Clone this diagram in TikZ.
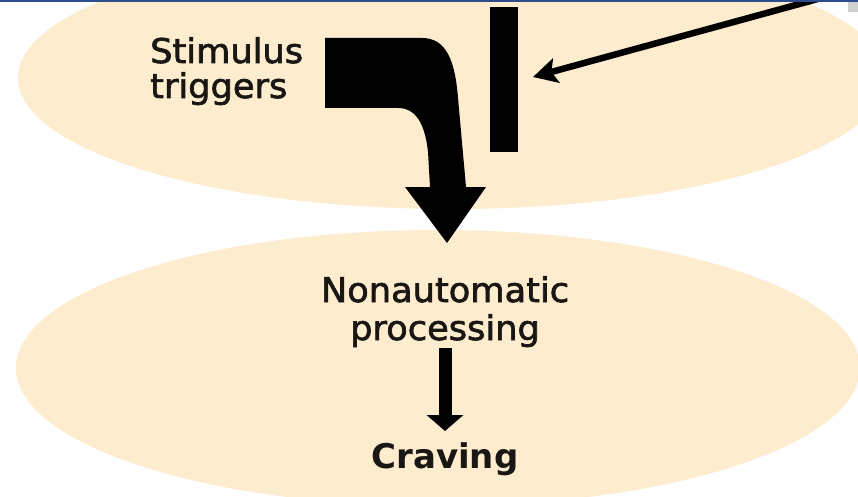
\documentclass[tikz,border=0pt]{standalone}
\usepackage{fontspec}
\setmainfont{DejaVu Sans}
\newfontfamily\lblfont{DejaVu Sans}[FakeBold=2,FakeStretch=1.035]
\usetikzlibrary{arrows.meta}
\definecolor{beige}{RGB}{253,236,205}
\definecolor{bandblue}{RGB}{44,76,140}
\definecolor{inkc}{RGB}{25,22,20}
\tikzset{
  lbl/.style={inner sep=0pt, text=inkc, font=\lblfont\fontsize{34}{37}\selectfont},
  blob/.style={fill=beige},
}
\begin{document}
\begin{tikzpicture}[x=1pt,y=-1pt]
\useasboundingbox (0,0) rectangle (858,497);
\fill[white] (0,0) rectangle (858,497);
% ellipses
\fill[blob] (452,78) ellipse [x radius=434, y radius=131];
\fill[blob] (438,368) ellipse [x radius=422, y radius=138];
% big bent arrow
\fill[black] (325,38) -- (422,38) .. controls (446,38) and (455,60) .. (458,98)
  -- (466,187) -- (486,187) -- (447,243) -- (405,187) -- (430,187)
  -- (428,152) .. controls (425,124) and (416,108) .. (398,108)
  -- (325,108) -- cycle;
% vertical bar
\fill[black] (490,7) rectangle (518,152);
% thin arrow
\coordinate (src) at (825,-3);
\coordinate (bartip) at (533,77);
\draw[line width=6.5pt, -{Stealth[length=24pt,width=25pt,inset=5pt]}] (src) -- (bartip);
% top band and corner mark
\fill[bandblue] (0,0) rectangle (858,2.5);
\fill[black!18] (848,2.5) rectangle (858,12);
% texts
\node[lbl, anchor=base west] (stim) at (150,63) {Stimulus};
\node[lbl, anchor=base west] (trig) at (150,98) {triggers};
\node[lbl, anchor=base] (nonauto) at (445,302) {Nonautomatic};
\node[lbl, anchor=base] (proc) at (445,340) {processing};
\node[lbl, anchor=base, font=\fontsize{34}{37}\selectfont\bfseries] (crav) at (445,468) {Craving};
% small arrow
\coordinate (sa) at (445,348);
\coordinate (sb) at (445,431);
\draw[line width=13pt, -{Triangle[length=16pt,width=36pt]}] (sa) -- (sb);
\end{tikzpicture}
\end{document}
